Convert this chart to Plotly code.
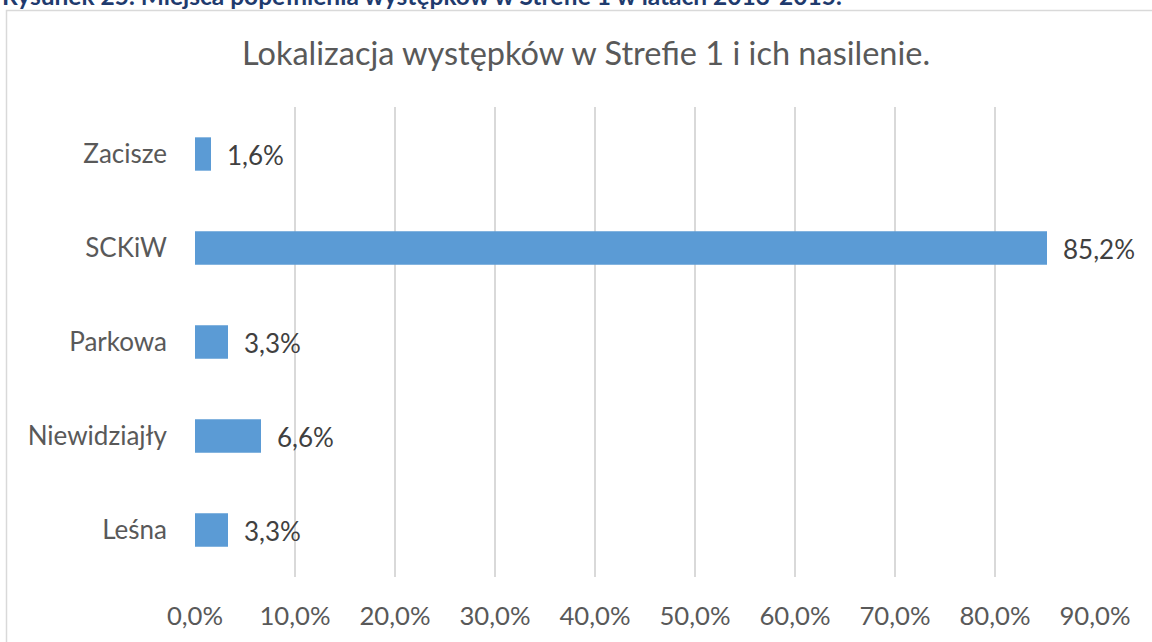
import plotly.graph_objects as go

categories = ["Leśna", "Niewidziajły", "Parkowa", "SCKiW", "Zacisze"]
values = [3.3, 6.6, 3.3, 85.2, 1.6]  # percent
tick_vals = [0, 10, 20, 30, 40, 50, 60, 70, 80, 90]
tick_text = [f"{v:.1f}".replace(".", ",") + "%" for v in tick_vals]
label_text = [f"{v:.1f}".replace(".", ",") + "%" for v in values]

title_text = "Lokalizacja występków w Strefie 1 i ich nasilenie."
caption_text = "Rysunek 25. Miejsca popełnienia występków w Strefie 1 w latach 2013-2015."

FONT = "Lato"
W, H = 1152, 642
L, R, T, B = 195, 57, 107, 65
pw, ph = W - L - R, H - T - B

def px_x(px):
    return (px - L) / pw

def px_y(py):
    return (H - B - py) / ph

fig = go.Figure()
fig.add_trace(go.Bar(
    x=values, y=categories, orientation="h",
    marker=dict(color="#5B9BD5", line=dict(width=0)),
    width=0.355, hoverinfo="skip",
))

for v, c, t in zip(values, categories, label_text):
    fig.add_annotation(x=v, y=c, xref="x", yref="y", text=t, showarrow=False,
                       xanchor="left", yanchor="middle", xshift=14, yshift=-1,
                       font=dict(family=FONT, size=26, color="#404040"))

fig.add_annotation(x=px_x(586), y=px_y(52), xref="paper", yref="paper",
                   text=title_text, showarrow=False, xanchor="center", yanchor="middle",
                   font=dict(family=FONT, size=32.5, color="#595959"))

fig.add_annotation(x=px_x(0), y=px_y(12), xref="paper", yref="paper",
                   text="<b>" + caption_text + "</b>", showarrow=False,
                   xanchor="left", yanchor="bottom",
                   font=dict(family=FONT, size=24.5, color="#1F3B6E"))

fig.add_shape(type="rect", xref="paper", yref="paper",
              x0=px_x(6.5), x1=px_x(1200), y0=px_y(700), y1=px_y(10.5),
              line=dict(color="#D9D9D9", width=1.5), fillcolor="rgba(0,0,0,0)", layer="below")

fig.update_layout(
    width=W, height=H,
    margin=dict(l=L, r=R, t=T, b=B, pad=0),
    paper_bgcolor="white", plot_bgcolor="white",
    showlegend=False,
    font=dict(family=FONT, size=26, color="#595959"),
    xaxis=dict(range=[0, 90], tickvals=tick_vals, ticktext=tick_text,
               showgrid=True, gridcolor="#D9D9D9", gridwidth=1.5,
               zeroline=False, showline=False, ticks="", ticklabelstandoff=21,
               tickfont=dict(family=FONT, size=25.7, color="#595959"), fixedrange=True),
    yaxis=dict(categoryorder="array", categoryarray=categories,
               showgrid=False, zeroline=False, showline=False, ticks="",
               ticklabelstandoff=27,
               tickfont=dict(family=FONT, size=26, color="#595959"), fixedrange=True),
)

fig.write_html("out.html", config={"displayModeBar": False},
               post_script="document.body.style.margin='0px';document.body.style.overflow='hidden';")
